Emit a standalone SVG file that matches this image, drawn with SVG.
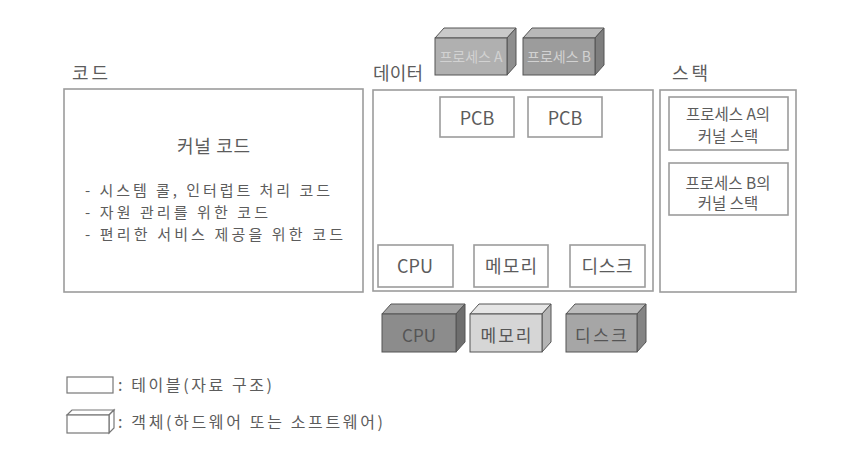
<svg xmlns="http://www.w3.org/2000/svg" width="843" height="455" viewBox="0 0 843 455">
<style>
text{font-family:"Noto Sans CJK KR","Noto Sans",sans-serif;fill:#5c5c5c;}
.box{fill:#fff;stroke:#9c9c9c;stroke-width:1.6;}
.lbl{font-size:18px;}
.t15{font-size:16px;}
.li{font-size:15px;}
.t16{font-size:18px;}
.st{font-size:15.5px;}
.pcb{font-size:18px;}
.mid{text-anchor:middle;}
.cube polygon,.cube rect{stroke:#555;stroke-width:1;}
.ct{font-size:14px;fill:#d2d2d2;}
.cb{font-size:17px;fill:#555;}
</style>
<rect width="843" height="455" fill="#fff"/>

<g id="code">
<text class="lbl" x="72" y="80" textLength="36">코드</text>
<rect class="box" x="64" y="89" width="299" height="203"/>
<text class="t16" x="177" y="153" textLength="73">커널 코드</text>
<text class="li" x="85" y="196" textLength="245">- 시스템 콜, 인터럽트 처리 코드</text>
<text class="li" x="85" y="218" textLength="183">- 자원 관리를 위한 코드</text>
<text class="li" x="85" y="240" textLength="258">- 편리한 서비스 제공을 위한 코드</text>
</g>

<g id="data">
<text class="lbl" x="373" y="80" textLength="50">데이터</text>
<rect class="box" x="373" y="90" width="280" height="201"/>
</g>
<g id="pcb-a">
<rect class="box" x="440" y="97" width="74" height="40"/>
<text class="pcb mid" x="477" y="125">PCB</text>
</g>
<g id="pcb-b">
<rect class="box" x="528" y="97" width="74" height="40"/>
<text class="pcb mid" x="565" y="125">PCB</text>
</g>
<g id="tbl-cpu">
<rect class="box" x="378" y="245" width="75" height="42"/>
<text class="t16 mid" x="415" y="273">CPU</text>
</g>
<g id="tbl-mem">
<rect class="box" x="474" y="245" width="74" height="42"/>
<text class="t16 mid" x="511" y="273" textLength="52">메모리</text>
</g>
<g id="tbl-disk">
<rect class="box" x="570" y="245" width="75" height="42"/>
<text class="t16 mid" x="607" y="273" textLength="51">디스크</text>
</g>

<g id="stack">
<text class="lbl" x="672" y="80" textLength="36">스택</text>
<rect class="box" x="660" y="90" width="136" height="202"/>
</g>
<g id="stack-a">
<rect class="box" x="669" y="97" width="119" height="53"/>
<text class="st mid" x="728" y="120">프로세스 A의</text>
<text class="st mid" x="728" y="142">커널 스택</text>
</g>
<g id="stack-b">
<rect class="box" x="669" y="163" width="119" height="52"/>
<text class="st mid" x="728" y="189">프로세스 B의</text>
<text class="st mid" x="728" y="209">커널 스택</text>
</g>

<g id="proc-a" class="cube">
<polygon points="435,38 444,28 516,28 507,38" fill="#c9c9c9"/>
<polygon points="507,38 516,28 516,65 507,75" fill="#8e8e8e"/>
<rect x="435" y="38" width="72" height="37" fill="#b0b0b0"/>
<text class="ct mid" x="471" y="62">프로세스 A</text>
</g>
<g id="proc-b" class="cube">
<polygon points="523,38 532,28 604,28 595,38" fill="#b8b8b8"/>
<polygon points="595,38 604,28 604,65 595,75" fill="#7e7e7e"/>
<rect x="523" y="38" width="72" height="37" fill="#9c9c9c"/>
<text class="ct mid" x="559" y="62">프로세스 B</text>
</g>

<g id="hw-cpu" class="cube">
<polygon points="382,314 391,304 465,304 456,314" fill="#a4a4a4"/>
<polygon points="456,314 465,304 465,342 456,352" fill="#6e6e6e"/>
<rect x="382" y="314" width="74" height="38" fill="#8c8c8c"/>
<text class="cb mid" x="419" y="342">CPU</text>
</g>
<g id="hw-mem" class="cube">
<polygon points="470,314 479,304 551,304 542,314" fill="#e6e6e6"/>
<polygon points="542,314 551,304 551,342 542,352" fill="#b4b4b4"/>
<rect x="470" y="314" width="72" height="38" fill="#d6d6d6"/>
<text class="cb mid" x="506" y="342" textLength="51">메모리</text>
</g>
<g id="hw-disk" class="cube">
<polygon points="566,314 575,304 646,304 637,314" fill="#bcbcbc"/>
<polygon points="637,314 646,304 646,342 637,352" fill="#848484"/>
<rect x="566" y="314" width="71" height="38" fill="#a6a6a6"/>
<text class="cb mid" x="601" y="342" textLength="52">디스크</text>
</g>

<g id="legend">
<rect x="67" y="377" width="46" height="16" fill="#fff" stroke="#777" stroke-width="1.2"/>
<text class="t15" x="118" y="391" textLength="154">: 테이블(자료 구조)</text>
<polygon points="67,415 72,410 114,410 109,415" fill="#fff" stroke="#777" stroke-width="1.2"/>
<polygon points="109,415 114,410 114,428 109,433" fill="#fff" stroke="#777" stroke-width="1.2"/>
<rect x="67" y="415" width="42" height="18" fill="#fff" stroke="#777" stroke-width="1.2"/>
<text class="t15" x="118" y="428" textLength="265">: 객체(하드웨어 또는 소프트웨어)</text>
</g>
<g id="connectors"></g>
</svg>
